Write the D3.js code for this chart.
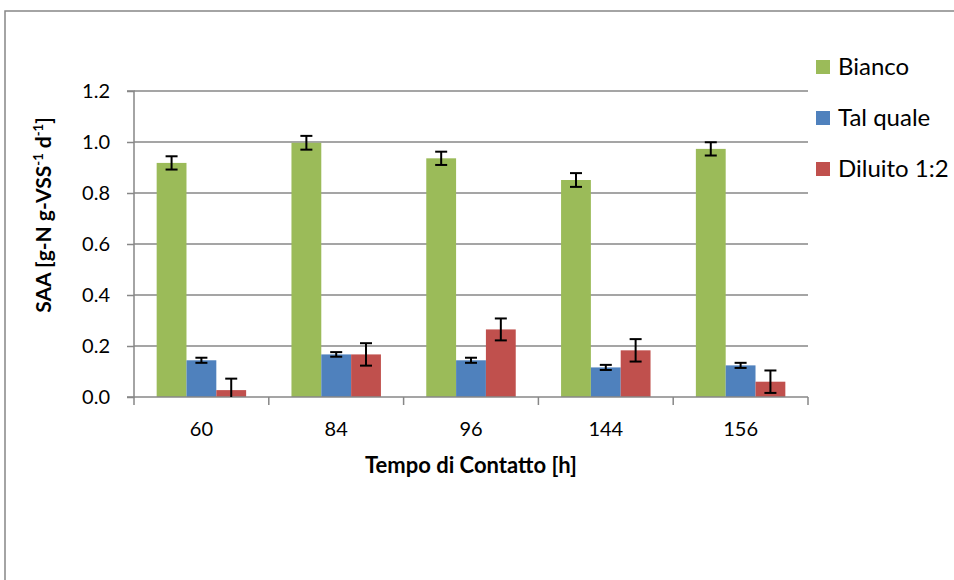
<!DOCTYPE html>
<html>
<head>
<meta charset="utf-8">
<script src="https://cdn.jsdelivr.net/npm/d3@7"></script>
<style>
  html, body { margin: 0; padding: 0; background: #fff; }
  svg { display: block; font-family: Lato, "Open Sans", sans-serif; }
</style>
</head>
<body>
<svg id="chart" width="954" height="580"></svg>
<script>
// Contact time groups (hours)
const categories = ["60", "84", "96", "144", "156"];
const seriesNames = ["Bianco", "Tal quale", "Diluito 1:2"];
const seriesColors = ["#9BBB59", "#4F81BD", "#C0504D"];

// SAA values per series
const bianco   = [0.918, 0.997, 0.936, 0.851, 0.973];
const talQuale = [0.144, 0.167, 0.144, 0.116, 0.124];
const diluito  = [0.027, 0.167, 0.265, 0.183, 0.060];

// Standard deviations (symmetric error bars)
const errBianco   = [0.026, 0.027, 0.026, 0.027, 0.026];
const errTalQuale = [0.010, 0.009, 0.010, 0.010, 0.010];
const errDiluito  = [0.045, 0.044, 0.043, 0.044, 0.044];

const yTicks = [0, 0.2, 0.4, 0.6, 0.8, 1.0, 1.2];

const values = [bianco, talQuale, diluito];
const errors = [errBianco, errTalQuale, errDiluito];

const svg = d3.select("#chart");
const plot = { left: 134, right: 808, top: 91, bottom: 397 };
const axisColor = "#878787";

// Outer chart frame
svg.append("rect")
  .attr("x", 5).attr("y", 11)
  .attr("width", 1000).attr("height", 700)
  .attr("fill", "none").attr("stroke", axisColor).attr("stroke-width", 1.5);

const x0 = d3.scaleBand().domain(categories).range([plot.left, plot.right]);
const x1 = d3.scaleBand().domain(seriesNames)
  .range([0, x0.bandwidth()]).paddingInner(0).paddingOuter(0.76);
const y = d3.scaleLinear().domain([0, 1.2]).range([plot.bottom, plot.top]);

// Horizontal gridlines
svg.append("g").selectAll("line").data(yTicks.slice(1)).join("line")
  .attr("x1", plot.left).attr("x2", plot.right)
  .attr("y1", d => y(d)).attr("y2", d => y(d))
  .attr("stroke", axisColor).attr("stroke-width", 1.5);

// Bars
const rows = [];
seriesNames.forEach((s, si) => {
  categories.forEach((c, ci) => {
    rows.push({ s, si, c, v: values[si][ci], e: errors[si][ci] });
  });
});

svg.append("g").selectAll("rect").data(rows).join("rect")
  .attr("x", d => x0(d.c) + x1(d.s))
  .attr("y", d => y(d.v))
  .attr("width", x1.bandwidth())
  .attr("height", d => y(0) - y(d.v))
  .attr("fill", d => seriesColors[d.si]);

// Y axis
const yAxis = d3.axisLeft(y).tickValues(yTicks).tickFormat(d3.format(".1f"))
  .tickSize(7).tickPadding(17);
const gy = svg.append("g").attr("transform", `translate(${plot.left},0)`).call(yAxis);
gy.select(".domain").attr("stroke", axisColor).attr("stroke-width", 1.5)
  .attr("d", `M-7,${plot.top}H0V${plot.bottom}H-7`);
gy.selectAll(".tick line").attr("stroke", axisColor).attr("stroke-width", 1.5);
gy.selectAll(".tick text").attr("font-size", 20).attr("fill", "#000")
  .attr("font-family", "Lato, sans-serif");

// X axis
const xAxis = d3.axisBottom(x0).tickSize(0).tickPadding(25);
const gx = svg.append("g").attr("transform", `translate(0,${plot.bottom})`).call(xAxis);
gx.select(".domain").attr("stroke", axisColor).attr("stroke-width", 1.5)
  .attr("d", `M${plot.left},0H${plot.right}`);
gx.selectAll(".tick text").attr("font-size", 20).attr("fill", "#000")
  .attr("font-family", "Lato, sans-serif");
// Category boundary ticks
const bounds = categories.map(c => x0(c)).concat([plot.right]);
gx.append("g").selectAll("line").data(bounds).join("line")
  .attr("x1", d => d).attr("x2", d => d).attr("y1", 0).attr("y2", 8)
  .attr("stroke", axisColor).attr("stroke-width", 1.5);

// Error bars, clipped to the plot area
svg.append("clipPath").attr("id", "plotClip").append("rect")
  .attr("x", plot.left).attr("y", plot.top - 10)
  .attr("width", plot.right - plot.left).attr("height", plot.bottom - plot.top + 10);
const eb = svg.append("g").attr("clip-path", "url(#plotClip)")
  .selectAll("g").data(rows).join("g")
  .attr("transform", d => `translate(${x0(d.c) + x1(d.s) + x1.bandwidth() / 2},0)`)
  .attr("stroke", "#000").attr("stroke-width", 2);
eb.append("line").attr("y1", d => y(d.v + d.e)).attr("y2", d => y(d.v - d.e));
eb.append("line").attr("x1", -6).attr("x2", 6)
  .attr("y1", d => y(d.v + d.e)).attr("y2", d => y(d.v + d.e));
eb.append("line").attr("x1", -6).attr("x2", 6)
  .attr("y1", d => y(d.v - d.e)).attr("y2", d => y(d.v - d.e));

// Axis titles
svg.append("text")
  .attr("x", (plot.left + plot.right) / 2).attr("y", 473)
  .attr("text-anchor", "middle").attr("font-weight", "bold").attr("font-size", 22)
  .text("Tempo di Contatto [h]");

const yt = svg.append("text")
  .attr("transform", "translate(51,215) rotate(-90)")
  .attr("text-anchor", "middle").attr("font-weight", "bold").attr("font-size", 21);
yt.append("tspan").text("SAA [g-N g-VSS");
yt.append("tspan").attr("font-size", 13).attr("dy", -8).text("-1");
yt.append("tspan").attr("dy", 8).text(" d");
yt.append("tspan").attr("font-size", 13).attr("dy", -8).text("-1");
yt.append("tspan").attr("dy", 8).text("]");

// Legend
const legend = svg.append("g").selectAll("g").data(seriesNames).join("g")
  .attr("transform", (d, i) => `translate(816,${60 + i * 51})`);
legend.append("rect").attr("width", 14).attr("height", 14)
  .attr("fill", (d, i) => seriesColors[i]);
legend.append("text").attr("x", 22).attr("y", 7).attr("dy", "0.35em")
  .attr("font-size", 24).attr("fill", "#000").text(d => d);
</script>
</body>
</html>
